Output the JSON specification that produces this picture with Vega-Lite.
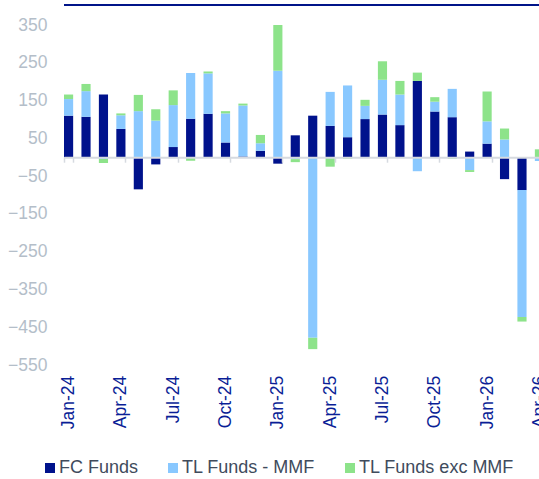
{
  "$schema": "https://vega.github.io/schema/vega-lite/v6.json",
  "autosize": {"type": "none"},
  "width": 475,
  "height": 360,
  "padding": {"left": 64, "top": 5, "right": 0, "bottom": 114},
  "background": "white",
  "config": {
    "view": {"stroke": null},
    "font": "Liberation Sans",
    "axisY": {"labelOverlap": false, "labelSeparation": 0}
  },
  "data": {"values": [
    {"m":"Jan-24","s":"FC Funds","v":110},{"m":"Jan-24","s":"TL Funds - MMF","v":44},{"m":"Jan-24","s":"TL Funds exc MMF","v":12},
    {"m":"Feb-24","s":"FC Funds","v":107},{"m":"Feb-24","s":"TL Funds - MMF","v":68},{"m":"Feb-24","s":"TL Funds exc MMF","v":19},
    {"m":"Mar-24","s":"FC Funds","v":166},{"m":"Mar-24","s":"TL Funds - MMF","v":-5},{"m":"Mar-24","s":"TL Funds exc MMF","v":-10},
    {"m":"Apr-24","s":"FC Funds","v":75},{"m":"Apr-24","s":"TL Funds - MMF","v":36},{"m":"Apr-24","s":"TL Funds exc MMF","v":5},
    {"m":"May-24","s":"FC Funds","v":-85},{"m":"May-24","s":"TL Funds - MMF","v":122},{"m":"May-24","s":"TL Funds exc MMF","v":43},
    {"m":"Jun-24","s":"FC Funds","v":-19},{"m":"Jun-24","s":"TL Funds - MMF","v":97},{"m":"Jun-24","s":"TL Funds exc MMF","v":30},
    {"m":"Jul-24","s":"FC Funds","v":27},{"m":"Jul-24","s":"TL Funds - MMF","v":111},{"m":"Jul-24","s":"TL Funds exc MMF","v":39},
    {"m":"Aug-24","s":"FC Funds","v":102},{"m":"Aug-24","s":"TL Funds - MMF","v":121},{"m":"Aug-24","s":"TL Funds exc MMF","v":-9},
    {"m":"Sep-24","s":"FC Funds","v":115},{"m":"Sep-24","s":"TL Funds - MMF","v":107},{"m":"Sep-24","s":"TL Funds exc MMF","v":5},
    {"m":"Oct-24","s":"FC Funds","v":39},{"m":"Oct-24","s":"TL Funds - MMF","v":77},{"m":"Oct-24","s":"TL Funds exc MMF","v":6},
    {"m":"Nov-24","s":"FC Funds","v":2},{"m":"Nov-24","s":"TL Funds - MMF","v":135},{"m":"Nov-24","s":"TL Funds exc MMF","v":5},
    {"m":"Dec-24","s":"FC Funds","v":17},{"m":"Dec-24","s":"TL Funds - MMF","v":20},{"m":"Dec-24","s":"TL Funds exc MMF","v":22},
    {"m":"Jan-25","s":"FC Funds","v":-17},{"m":"Jan-25","s":"TL Funds - MMF","v":229},{"m":"Jan-25","s":"TL Funds exc MMF","v":121},
    {"m":"Feb-25","s":"FC Funds","v":58},{"m":"Feb-25","s":"TL Funds - MMF","v":-5},{"m":"Feb-25","s":"TL Funds exc MMF","v":-8},
    {"m":"Mar-25","s":"FC Funds","v":110},{"m":"Mar-25","s":"TL Funds - MMF","v":-478},{"m":"Mar-25","s":"TL Funds exc MMF","v":-30},
    {"m":"Apr-25","s":"FC Funds","v":83},{"m":"Apr-25","s":"TL Funds - MMF","v":90},{"m":"Apr-25","s":"TL Funds exc MMF","v":-25},
    {"m":"May-25","s":"FC Funds","v":53},{"m":"May-25","s":"TL Funds - MMF","v":137},{"m":"May-25","s":"TL Funds exc MMF","v":-4},
    {"m":"Jun-25","s":"FC Funds","v":101},{"m":"Jun-25","s":"TL Funds - MMF","v":35},{"m":"Jun-25","s":"TL Funds exc MMF","v":16},
    {"m":"Jul-25","s":"FC Funds","v":113},{"m":"Jul-25","s":"TL Funds - MMF","v":92},{"m":"Jul-25","s":"TL Funds exc MMF","v":49},
    {"m":"Aug-25","s":"FC Funds","v":85},{"m":"Aug-25","s":"TL Funds - MMF","v":81},{"m":"Aug-25","s":"TL Funds exc MMF","v":36},
    {"m":"Sep-25","s":"FC Funds","v":202},{"m":"Sep-25","s":"TL Funds - MMF","v":-37},{"m":"Sep-25","s":"TL Funds exc MMF","v":22},
    {"m":"Oct-25","s":"FC Funds","v":121},{"m":"Oct-25","s":"TL Funds - MMF","v":26},{"m":"Oct-25","s":"TL Funds exc MMF","v":12},
    {"m":"Nov-25","s":"FC Funds","v":106},{"m":"Nov-25","s":"TL Funds - MMF","v":75},{"m":"Nov-25","s":"TL Funds exc MMF","v":-4},
    {"m":"Dec-25","s":"FC Funds","v":15},{"m":"Dec-25","s":"TL Funds - MMF","v":-34},{"m":"Dec-25","s":"TL Funds exc MMF","v":-5},
    {"m":"Jan-26","s":"FC Funds","v":36},{"m":"Jan-26","s":"TL Funds - MMF","v":59},{"m":"Jan-26","s":"TL Funds exc MMF","v":79},
    {"m":"Feb-26","s":"FC Funds","v":-58},{"m":"Feb-26","s":"TL Funds - MMF","v":47},{"m":"Feb-26","s":"TL Funds exc MMF","v":29},
    {"m":"Mar-26","s":"FC Funds","v":-87},{"m":"Mar-26","s":"TL Funds - MMF","v":-336},{"m":"Mar-26","s":"TL Funds exc MMF","v":-12},
    {"m":"Apr-26","s":"FC Funds","v":0},{"m":"Apr-26","s":"TL Funds - MMF","v":-10},{"m":"Apr-26","s":"TL Funds exc MMF","v":21}
  ]},
  "layer": [
    {
      "mark": {"type": "bar"},
      "encoding": {
        "x": {
          "field": "m", "type": "nominal",
          "scale": {
            "domain": ["Jan-24","Feb-24","Mar-24","Apr-24","May-24","Jun-24","Jul-24","Aug-24","Sep-24","Oct-24","Nov-24","Dec-24","Jan-25","Feb-25","Mar-25","Apr-25","May-25","Jun-25","Jul-25","Aug-25","Sep-25","Oct-25","Nov-25","Dec-25","Jan-26","Feb-26","Mar-26","Apr-26"],
            "range": [0, 480],
            "paddingInner": 0.475,
            "paddingOuter": 0
          },
          "axis": {
            "title": null,
            "values": ["Jan-24","Apr-24","Jul-24","Oct-24","Jan-25","Apr-25","Jul-25","Oct-25","Jan-26","Apr-26"],
            "labelAngle": -90,
            "labelFontSize": 17.5,
            "labelColor": "#0A1E96",
            "labelPadding": 213,
            "labelFont": "Liberation Sans",
            "offset": -207.8,
            "domainColor": "#D6DAE0",
            "domainWidth": 2,
            "tickBand": "extent",
            "tickColor": "#D6DAE0",
            "tickSize": 5,
            "tickWidth": 1.5,
            "zindex": 1
          }
        },
        "y": {
          "field": "v", "type": "quantitative", "stack": "zero",
          "scale": {"domain": [-550, 403], "nice": false, "zero": false},
          "axis": {
            "title": null,
            "values": [-550,-450,-350,-250,-150,-50,50,150,250,350],
            "grid": false,
            "domain": false,
            "ticks": false,
            "labelOverlap": false,
            "labelFontSize": 17.5,
            "labelColor": "#B4BEC9",
            "labelPadding": 17,
            "labelFont": "Liberation Sans"
          }
        },
        "order": {"field": "s", "sort": "ascending"},
        "color": {
          "field": "s", "type": "nominal",
          "scale": {
            "domain": ["FC Funds","TL Funds - MMF","TL Funds exc MMF"],
            "range": ["#00128C","#89C8FF","#8DE38A"]
          },
          "legend": {
            "title": null,
            "orient": "none",
            "direction": "horizontal",
            "legendX": -23,
            "legendY": 454,
            "symbolType": "square",
            "symbolSize": 100,
            "symbolStrokeWidth": 0,
            "labelFontSize": 18,
            "labelColor": "#404B5C",
            "labelFont": "Liberation Sans",
            "labelOffset": 0,
            "columnPadding": 25,
            "padding": 0
          }
        }
      }
    },
    {
      "mark": {"type": "rule", "color": "#001489", "strokeWidth": 2},
      "encoding": {"y": {"datum": 403, "axis": {"title": null, "values": [-550,-450,-350,-250,-150,-50,50,150,250,350], "labelOverlap": false}}}
    }
  ]
}
